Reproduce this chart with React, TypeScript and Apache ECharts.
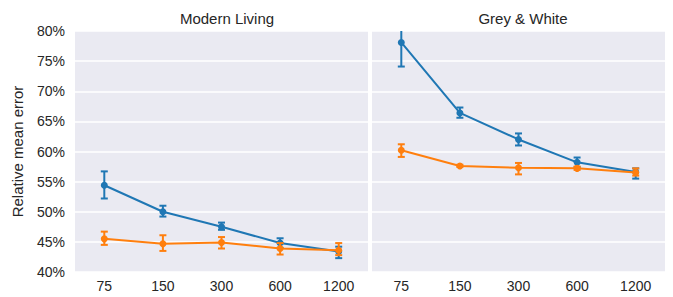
import React, { useEffect, useRef } from "react";
import * as echarts from "echarts";

const categories = ["75", "150", "300", "600", "1200"];
const panelTitles = ["Modern Living", "Grey & White"];

// Modern Living
const mlBlue = [54.4, 50.0, 47.5, 44.8, 43.4];
const mlBlueLow = [52.2, 49.2, 47.0, 44.0, 42.3];
const mlBlueHigh = [56.7, 51.0, 48.2, 45.6, 44.2];
const mlOrange = [45.5, 44.7, 44.9, 43.9, 43.6];
const mlOrangeLow = [44.5, 43.5, 43.9, 42.9, 42.8];
const mlOrangeHigh = [46.7, 46.1, 45.8, 44.8, 44.8];

// Grey & White
const gwBlue = [78.1, 66.4, 62.0, 58.2, 56.6];
const gwBlueLow = [74.1, 65.6, 61.0, 57.4, 55.5];
const gwBlueHigh = [82.5, 67.3, 63.0, 59.0, 57.2];
const gwOrange = [60.2, 57.6, 57.3, 57.2, 56.5];
const gwOrangeLow = [59.1, 57.45, 56.2, 56.95, 56.0];
const gwOrangeHigh = [61.2, 57.8, 58.1, 57.5, 57.2];

const yTicks = { min: 40, max: 80, interval: 5 };

const BLUE = "#1f77b4";
const ORANGE = "#ff7f0e";
const FONT = "Liberation Sans";
const TEXT = "#262626";

function errSeries(idx: number, low: number[], high: number[], color: string, z: number) {
  return {
    type: "custom",
    xAxisIndex: idx,
    yAxisIndex: idx,
    clip: true,
    z,
    data: low.map((l, i) => [i, l, high[i]]),
    encode: { x: 0, y: [1, 2] },
    renderItem: (params: any, api: any) => {
      const x = api.value(0);
      const lo = api.coord([x, api.value(1)]);
      const hi = api.coord([x, api.value(2)]);
      const w = 3.5;
      const style = { stroke: color, lineWidth: 2 };
      return {
        type: "group",
        children: [
          { type: "line", shape: { x1: lo[0], y1: lo[1], x2: hi[0], y2: hi[1] }, style },
          { type: "line", shape: { x1: lo[0] - w, y1: lo[1], x2: lo[0] + w, y2: lo[1] }, style },
          { type: "line", shape: { x1: hi[0] - w, y1: hi[1], x2: hi[0] + w, y2: hi[1] }, style },
        ],
      };
    },
  };
}

function lineSeries(idx: number, data: number[], color: string, z: number) {
  return {
    type: "line",
    xAxisIndex: idx,
    yAxisIndex: idx,
    data,
    symbol: "circle",
    symbolSize: 7,
    z,
    lineStyle: { color, width: 2 },
    itemStyle: { color },
  };
}

export default function App() {
  const ref = useRef<HTMLDivElement>(null);
  useEffect(() => {
    if (!ref.current) return;
    const chart = echarts.init(ref.current, null, { renderer: "svg" });
    const xAxisBase = {
      type: "category",
      data: categories,
      axisLine: { show: false },
      axisTick: { show: false },
      splitLine: { show: false },
      axisLabel: { color: TEXT, fontSize: 14, fontFamily: FONT, margin: 7 },
    };
    const yAxisBase = {
      type: "value",
      min: yTicks.min,
      max: yTicks.max,
      interval: yTicks.interval,
      axisLine: { show: false },
      axisTick: { show: false },
      splitLine: { show: true, lineStyle: { color: "#ffffff", width: 1.5 } },
    };
    chart.setOption({
      animation: false,
      title: [
        {
          text: panelTitles[0],
          left: 222,
          top: 6,
          textAlign: "center",
          textStyle: { color: TEXT, fontSize: 15, fontWeight: "normal", fontFamily: FONT },
        },
        {
          text: panelTitles[1],
          left: 518,
          top: 6,
          textAlign: "center",
          textStyle: { color: TEXT, fontSize: 15, fontWeight: "normal", fontFamily: FONT },
        },
      ],
      grid: [
        { left: 75, right: 305, top: 31, bottom: 25, show: true, backgroundColor: "#eaeaf2", borderWidth: 0 },
        { left: 372, right: 8, top: 31, bottom: 25, show: true, backgroundColor: "#eaeaf2", borderWidth: 0 },
      ],
      xAxis: [
        { ...xAxisBase, gridIndex: 0 },
        { ...xAxisBase, gridIndex: 1 },
      ],
      yAxis: [
        {
          ...yAxisBase,
          gridIndex: 0,
          name: "Relative mean error",
          nameLocation: "middle",
          nameGap: 50,
          nameTextStyle: { color: TEXT, fontSize: 15, fontFamily: FONT },
          axisLabel: { color: TEXT, fontSize: 14, fontFamily: FONT, margin: 10, formatter: "{value}%" },
        },
        { ...yAxisBase, gridIndex: 1, axisLabel: { show: false } },
      ],
      series: [
        errSeries(0, mlBlueLow, mlBlueHigh, BLUE, 2),
        lineSeries(0, mlBlue, BLUE, 3),
        errSeries(0, mlOrangeLow, mlOrangeHigh, ORANGE, 4),
        lineSeries(0, mlOrange, ORANGE, 5),
        errSeries(1, gwBlueLow, gwBlueHigh, BLUE, 2),
        lineSeries(1, gwBlue, BLUE, 3),
        errSeries(1, gwOrangeLow, gwOrangeHigh, ORANGE, 4),
        lineSeries(1, gwOrange, ORANGE, 5),
      ],
    });
    return () => chart.dispose();
  }, []);
  return <div ref={ref} style={{ width: 673, height: 297, position: "absolute", left: 0, top: 0 }} />;
}
